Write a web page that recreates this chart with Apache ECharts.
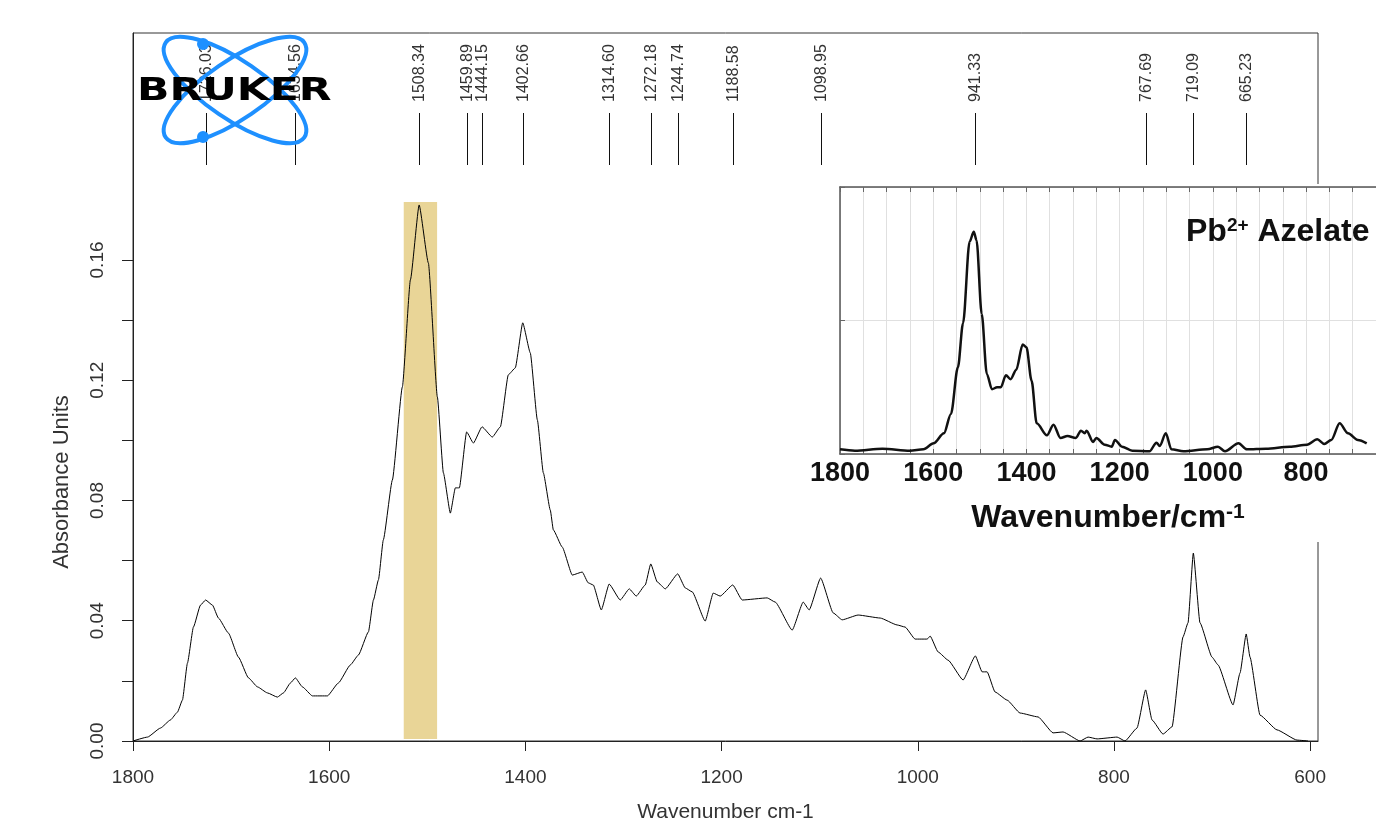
<!DOCTYPE html>
<html>
<head>
<meta charset="utf-8">
<script src="https://cdn.jsdelivr.net/npm/echarts@6/dist/echarts.min.js"></script>
<style>
html,body{margin:0;padding:0;background:#fff;}
#chart{width:1376px;height:831px;}
</style>
</head>
<body>
<div id="chart"></div>
<script>
// ---- main spectrum: [wavenumber cm-1, absorbance] ----
const mainSpectrum = [
  [1800,0],[1785.2,0.0013],[1772.0,0.0043],[1761.8,0.007],[1754.7,0.0096],[1749.6,0.0136],
  [1744.5,0.0259],[1738.4,0.0379],[1731.2,0.0452],[1726.0,0.0469],[1719.0,0.0452],[1712.9,0.0409],
  [1702.7,0.0359],[1692.5,0.0279],[1682.3,0.021],[1673.1,0.018],[1663.0,0.016],[1652.8,0.0146],
  [1646.6,0.016],[1639.5,0.0193],[1634.5,0.021],[1627.3,0.018],[1617.1,0.015],[1601.8,0.015],
  [1590.6,0.0193],[1578.4,0.0253],[1570.2,0.0286],[1560.0,0.0363],[1554.9,0.0469],[1549.8,0.0536],
  [1544.8,0.0669],[1535.6,0.0868],[1525.4,0.1178],[1517.2,0.1534],[1508.3,0.1783],[1498.9,0.159],
  [1489.7,0.1144],[1483.6,0.0892],[1476.5,0.0758],[1471.4,0.0842],[1467.3,0.0842],[1459.9,0.1028],
  [1453.0,0.0991],[1444.2,0.1045],[1433.7,0.1011],[1425.5,0.1045],[1417.4,0.1218],[1410.3,0.1241],
  [1402.7,0.1391],[1395.0,0.1291],[1387.8,0.1068],[1381.7,0.0892],[1374.6,0.0768],[1371.5,0.0702],
  [1362.4,0.0645],[1352.2,0.0552],[1342.0,0.0562],[1335.9,0.0526],[1330.8,0.0519],[1322.6,0.0436],
  [1314.6,0.0522],[1303.3,0.0469],[1294.1,0.0506],[1287.0,0.0482],[1277.8,0.0519],[1272.2,0.0589],
  [1265.6,0.0529],[1257.4,0.0506],[1244.7,0.0556],[1237.0,0.0509],[1229.9,0.0496],[1216.7,0.0399],
  [1208.5,0.0492],[1201.4,0.0482],[1188.6,0.0519],[1179.0,0.0469],[1153.5,0.0476],[1145.3,0.0462],
  [1128.0,0.0369],[1116.8,0.0462],[1110.7,0.0436],[1099.0,0.0542],[1086.2,0.0426],[1077.1,0.0403],
  [1060.8,0.0419],[1038.3,0.0409],[1021.0,0.0386],[1012.9,0.0379],[1002.7,0.0339],[990.4,0.0339],
  [987.4,0.0349],[979.2,0.0296],[969.1,0.0269],[953.8,0.0203],[941.3,0.0283],[934.4,0.023],
  [929.3,0.023],[921.2,0.0163],[908.9,0.0136],[895.7,0.0093],[877.3,0.008],[862.1,0.0027],
  [851.9,0.003],[834.5,0.0],[826.4,0.0013],[817.2,0.0007],[796.8,0.0013],[788.7,0.0],
  [776.5,0.0043],[767.7,0.017],[761.2,0.007],[750.0,0.0023],[740.8,0.0047],[729.6,0.0346],
  [724.5,0.0393],[719.1,0.0625],[712.3,0.0393],[700.0,0.0279],[693.9,0.0253],[678.6,0.012],
  [671.5,0.0226],[665.2,0.0356],[661.3,0.0279],[651.1,0.0086],[633.8,0.0037],[613.4,0.0003],[602.2,0.0]
];

// ---- inset spectrum (Pb2+ Azelate): [wavenumber, relative intensity] ----
const insetSpectrum = [
  [1800,0.035],[1768,0.025],[1709,0.04],[1650,0.025],[1621,0.035],[1599,0.08],[1577,0.155],
  [1562,0.30],[1547,0.65],[1536,0.98],[1522,1.59],[1513,1.665],[1507,1.60],[1496,1.05],
  [1485,0.60],[1474,0.485],[1463,0.50],[1455,0.50],[1444,0.59],[1434,0.56],[1422,0.63],
  [1408,0.82],[1400,0.80],[1389,0.55],[1378,0.23],[1356,0.14],[1342,0.22],[1327,0.12],
  [1312,0.135],[1294,0.12],[1283,0.175],[1275,0.155],[1271,0.175],[1257,0.09],[1250,0.12],
  [1232,0.07],[1217,0.055],[1210,0.105],[1195,0.055],[1173,0.025],[1136,0.02],[1121,0.085],
  [1114,0.06],[1101,0.155],[1089,0.035],[1063,0.02],[1012,0.035],[989,0.055],[974,0.02],
  [945,0.08],[927,0.035],[886,0.04],[835,0.055],[798,0.07],[776,0.11],[761,0.075],[746,0.105],
  [728,0.23],[710,0.155],[689,0.105],[670,0.08]
];

// ---- peak picks ----
const peakPositions = [1726.03,1634.56,1508.34,1459.89,1444.15,1402.66,1314.60,1272.18,1244.74,1188.58,1098.95,941.33,767.69,719.09,665.23];
const peakLabels = peakPositions.map(p => p.toFixed(2));

// ---- highlighted band: [from, to, top absorbance] ----
const highlightBand = [[1524, 1490, 0.1793]];

// ---- ticks ----
const xTickValues = [1800,1600,1400,1200,1000,800,600];
const yLabelValues = [0,0.04,0.08,0.12,0.16];
const yTickValues = [0,0.02,0.04,0.06,0.08,0.10,0.12,0.14,0.16];
const insetXLabelValues = [1800,1600,1400,1200,1000,800];

const FONT = '"Liberation Sans", Arial, sans-serif';
const chart = echarts.init(document.getElementById('chart'), null, {renderer:'canvas'});

const option = {
  animation: false,
  backgroundColor: '#fff',
  title: {
    text: '{a|Pb}{b|2+}{a| Azelate}',
    left: 1181, top: 211, z: 40,
    textStyle: {
      rich: {
        a: {fontSize: 32, fontWeight: 'bold', color: '#111', fontFamily: FONT},
        b: {fontSize: 19, fontWeight: 'bold', color: '#111', fontFamily: FONT, verticalAlign: 'top'}
      }
    }
  },
  grid: [
    {left: 133, right: 58, top: 33, bottom: 90, show: true, borderColor: '#333', borderWidth: 1, backgroundColor: 'transparent'},
    {left: 840, top: 187, width: 555, height: 267, show: false, z: 20}
  ],
  xAxis: [
    {
      gridIndex: 0, type: 'value', inverse: true, min: 592, max: 1800,
      axisLine: {show: true, onZero: false, lineStyle: {color: '#222', width: 1}},
      axisTick: {show: true, customValues: xTickValues, length: 10, lineStyle: {color: '#222'}},
      axisLabel: {customValues: xTickValues, margin: 27, fontSize: 19, color: '#333', fontFamily: FONT,
                  formatter: v => String(v)},
      splitLine: {show: false},
      name: 'Wavenumber cm-1', nameLocation: 'middle', nameGap: 61,
      nameTextStyle: {fontSize: 21, color: '#333', fontFamily: FONT}
    },
    {
      gridIndex: 1, type: 'value', inverse: true, min: 650, max: 1800, interval: 50, z: 25,
      axisLine: {show: true, onZero: false, lineStyle: {color: '#555', width: 1.5}},
      axisTick: {show: true, inside: true, length: 5, lineStyle: {color: '#666'}},
      axisLabel: {customValues: insetXLabelValues, margin: 6, fontSize: 27, fontWeight: 'bold', color: '#111', fontFamily: FONT,
                  formatter: v => String(v)},
      splitLine: {show: true, lineStyle: {color: '#e0e0e0', width: 1}},
      name: '{a|Wavenumber/cm}{b|-1}', nameLocation: 'middle', nameGap: 48,
      nameTextStyle: {
        rich: {
          a: {fontSize: 32, fontWeight: 'bold', color: '#111', fontFamily: FONT},
          b: {fontSize: 21, fontWeight: 'bold', color: '#111', fontFamily: FONT, verticalAlign: 'top'}
        }
      }
    },
    {
      gridIndex: 1, type: 'value', inverse: true, min: 650, max: 1800, interval: 50, position: 'top', z: 25,
      axisLine: {show: true, onZero: false, lineStyle: {color: '#555', width: 1.5}},
      axisTick: {show: true, inside: true, length: 5, lineStyle: {color: '#666'}},
      axisLabel: {show: false}, splitLine: {show: false}
    }
  ],
  yAxis: [
    {
      gridIndex: 0, type: 'value', min: 0, max: 0.2355,
      axisLine: {show: true, onZero: false, lineStyle: {color: '#222', width: 1}},
      axisTick: {show: true, customValues: yTickValues, length: 11, lineStyle: {color: '#222'}},
      axisLabel: {customValues: yLabelValues, rotate: 90, margin: 26, fontSize: 19, color: '#333', fontFamily: FONT,
                  formatter: v => v.toFixed(2)},
      splitLine: {show: false},
      name: 'Absorbance Units', nameLocation: 'middle', nameGap: 60,
      nameTextStyle: {fontSize: 22, color: '#333', fontFamily: FONT, padding: [0, 190, 0, 0]}
    },
    {
      gridIndex: 1, type: 'value', min: 0, max: 2, interval: 1, z: 25,
      axisLine: {show: true, onZero: false, lineStyle: {color: '#555', width: 1.5}},
      axisTick: {show: true, inside: true, length: 5, lineStyle: {color: '#666'}},
      axisLabel: {show: false},
      splitLine: {show: true, lineStyle: {color: '#e0e0e0', width: 1}}
    }
  ],
  graphic: [
    // white backing of the inset figure
    {type: 'rect', z: 10, shape: {x: 806, y: 184, width: 570, height: 358}, style: {fill: '#fff'}},
    // Bruker logo
    {type: 'ellipse', z: 50, x: 235, y: 90, rotation: -0.6, shape: {cx: 0, cy: 0, rx: 84, ry: 29}, style: {fill: null, stroke: '#1E90FF', lineWidth: 4}},
    {type: 'ellipse', z: 50, x: 235, y: 90, rotation: 0.6, shape: {cx: 0, cy: 0, rx: 84, ry: 29}, style: {fill: null, stroke: '#1E90FF', lineWidth: 4}},
    {type: 'circle', z: 51, shape: {cx: 203, cy: 44, r: 6}, style: {fill: '#1E90FF'}},
    {type: 'circle', z: 51, shape: {cx: 203, cy: 137, r: 6}, style: {fill: '#1E90FF'}},
    {type: 'text', z: 52, x: 137, y: 92, scaleX: 1.33, style: {text: 'BRUKER', font: 'bold 32px "DejaVu Sans", sans-serif', fill: '#000', align: 'left', verticalAlign: 'middle'}}
  ],
  series: [
    {
      type: 'custom', xAxisIndex: 0, yAxisIndex: 0, z: 1, silent: true,
      data: highlightBand,
      renderItem: (params, api) => {
        const p1 = api.coord([api.value(0), 0]);
        const p2 = api.coord([api.value(1), api.value(2)]);
        return {type: 'rect', shape: {x: p1[0], y: p2[1], width: p2[0] - p1[0], height: p1[1] - p2[1] - 2},
                style: {fill: '#E9D597'}};
      }
    },
    {
      type: 'line', xAxisIndex: 0, yAxisIndex: 0, z: 3, data: mainSpectrum,
      showSymbol: false, smooth: 0.15, smoothMonotone: 'x',
      lineStyle: {color: '#000', width: 1}, silent: true
    },
    {
      type: 'custom', xAxisIndex: 0, yAxisIndex: 0, z: 4, silent: true,
      data: peakPositions.map(p => [p]),
      renderItem: (params, api) => {
        const x = Math.round(api.coord([api.value(0), 0])[0]) + 0.5;
        const top = params.coordSys.y;
        return {
          type: 'group',
          children: [
            {type: 'line', shape: {x1: x, y1: top + 80, x2: x, y2: top + 132}, style: {stroke: '#111', lineWidth: 1}},
            {type: 'text', x: x, y: top + 69, rotation: Math.PI / 2,
             style: {text: peakLabels[params.dataIndex], font: '16px "Liberation Sans", Arial, sans-serif', fill: '#333', align: 'left', verticalAlign: 'middle'}}
          ]
        };
      }
    },
    {
      type: 'line', xAxisIndex: 1, yAxisIndex: 1, z: 30, data: insetSpectrum,
      showSymbol: false, smooth: 0.3, smoothMonotone: 'x',
      lineStyle: {color: '#111', width: 2.5}, silent: true
    }
  ]
};
chart.setOption(option);
</script>
</body>
</html>
